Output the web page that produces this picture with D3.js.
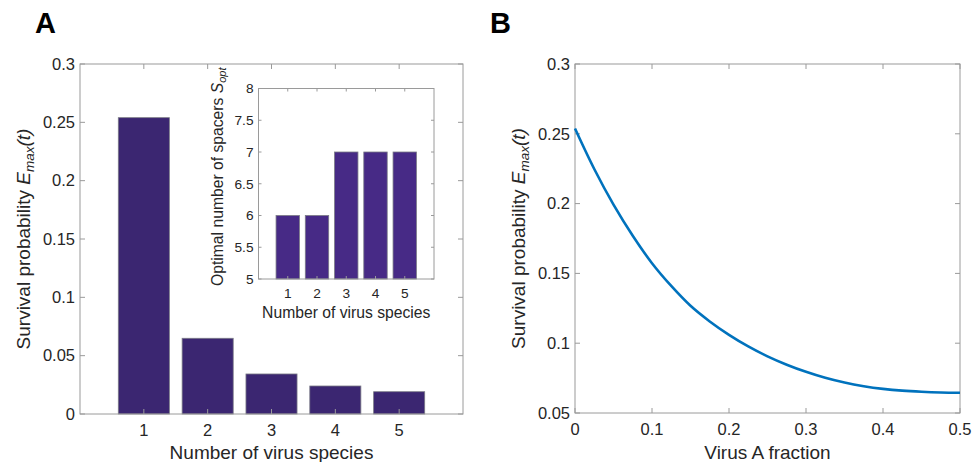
<!DOCTYPE html>
<html><head><meta charset="utf-8">
<script src="https://cdn.jsdelivr.net/npm/d3@7"></script>
<style>
body{margin:0;background:#fff;}
svg text{font-family:"Liberation Sans",Arial,Helvetica,sans-serif;fill:#262626;}
</style></head>
<body><svg id="c" width="972" height="462"></svg>
<script>
// Panel A main bars
const speciesCounts = [1, 2, 3, 4, 5];
const survivalProb = [0.254, 0.0649, 0.0343, 0.024, 0.0191];
const mainYTicks = [0, 0.05, 0.1, 0.15, 0.2, 0.25, 0.3];
const mainYLabels = ["0", "0.05", "0.1", "0.15", "0.2", "0.25", "0.3"];
// Panel A inset
const optimalSpacers = [6, 6, 7, 7, 7];
const insetYTicks = [5, 5.5, 6, 6.5, 7, 7.5, 8];
const insetYLabels = ["5", "5.5", "6", "6.5", "7", "7.5", "8"];
// Panel B curve
const virusAFraction = [0, 0.025, 0.05, 0.075, 0.1, 0.125, 0.15, 0.175, 0.2, 0.225, 0.25, 0.275, 0.3, 0.325, 0.35, 0.375, 0.4, 0.425, 0.45, 0.475, 0.5];
const survivalCurve = [0.2538, 0.2248, 0.1993, 0.1770, 0.1573, 0.1410, 0.1268, 0.1156, 0.1060, 0.0977, 0.0906, 0.0846, 0.0795, 0.0752, 0.0718, 0.0692, 0.0673, 0.0660, 0.0652, 0.0647, 0.0645];
const bXTicks = [0, 0.1, 0.2, 0.3, 0.4, 0.5];
const bXLabels = ["0", "0.1", "0.2", "0.3", "0.4", "0.5"];
const bYTicks = [0.05, 0.1, 0.15, 0.2, 0.25, 0.3];
const bYLabels = ["0.05", "0.1", "0.15", "0.2", "0.25", "0.3"];

const svg = d3.select("#c");
const boxColor = "#9a9a9a";
const tickFS = 16.5, labelFS = 19, insetTickFS = 13.7, insetLabelFS = 15.7;

function frame(g, x0, x1, y0, y1) {
  g.append("rect").attr("x", x0).attr("y", y0).attr("width", x1 - x0).attr("height", y1 - y0)
    .attr("fill", "none").attr("stroke", boxColor).attr("stroke-width", 1);
}
function yTicks(g, y, ticks, labels, x0, x1, len, fs, gap) {
  ticks.forEach((t, i) => {
    const yy = y(t);
    g.append("line").attr("x1", x0).attr("x2", x0 + len).attr("y1", yy).attr("y2", yy).attr("stroke", boxColor);
    g.append("line").attr("x1", x1).attr("x2", x1 - len).attr("y1", yy).attr("y2", yy).attr("stroke", boxColor);
    g.append("text").attr("x", x0 - gap).attr("y", yy).attr("dy", "0.35em").attr("text-anchor", "end")
      .attr("font-size", fs).text(labels[i]);
  });
}
function xTicks(g, x, ticks, labels, y0, y1, len, fs, gap) {
  ticks.forEach((t, i) => {
    const xx = x(t);
    g.append("line").attr("x1", xx).attr("x2", xx).attr("y1", y1).attr("y2", y1 - len).attr("stroke", boxColor);
    g.append("line").attr("x1", xx).attr("x2", xx).attr("y1", y0).attr("y2", y0 + len).attr("stroke", boxColor);
    g.append("text").attr("x", xx).attr("y", y1 + gap).attr("dy", "0.71em").attr("text-anchor", "middle")
      .attr("font-size", fs).text(labels[i]);
  });
}
function survivalLabel(g, cx, cy) {
  const t = g.append("text").attr("transform", `translate(${cx},${cy}) rotate(-90)`)
    .attr("text-anchor", "middle").attr("dy", "0.35em").attr("font-size", labelFS);
  t.append("tspan").text("Survival probability ");
  t.append("tspan").attr("font-style", "italic").text("E");
  t.append("tspan").attr("font-style", "italic").attr("font-size", 13.5).attr("dy", 4.5).text("max");
  t.append("tspan").attr("font-style", "italic").attr("dy", -4.5).text("(t)");
}

// ---------- Panel A ----------
const A = { x0: 80, x1: 463, y0: 64, y1: 414 };
const xA = d3.scaleLinear().domain([0, 6]).range([A.x0, A.x1]);
const yA = d3.scaleLinear().domain([0, 0.3]).range([A.y1, A.y0]);
const gA = svg.append("g");
gA.selectAll("rect.bar").data(speciesCounts).join("rect").attr("class", "bar")
  .attr("x", d => xA(d - 0.4)).attr("width", xA(0.8) - xA(0))
  .attr("y", (d, i) => yA(survivalProb[i])).attr("height", (d, i) => yA(0) - yA(survivalProb[i]))
  .attr("fill", "#3b2671").attr("stroke", "#7a7a86").attr("stroke-width", 0.8);
frame(gA, A.x0, A.x1, A.y0, A.y1);
yTicks(gA, yA, mainYTicks, mainYLabels, A.x0, A.x1, 5, tickFS, 5);
xTicks(gA, xA, speciesCounts, speciesCounts.map(String), A.y0, A.y1, 5, tickFS, 10);
gA.append("text").attr("x", (A.x0 + A.x1) / 2).attr("y", 452).attr("dy", "0.35em")
  .attr("text-anchor", "middle").attr("font-size", labelFS).text("Number of virus species");
survivalLabel(gA, 23, (A.y0 + A.y1) / 2);
svg.append("text").attr("x", 35).attr("y", 33).attr("font-size", 29).attr("font-weight", "bold")
  .style("fill", "#000").text("A");

// ---------- Inset ----------
const I = { x0: 258.5, x1: 434, y0: 88.5, y1: 279 };
const xI = d3.scaleLinear().domain([0, 6]).range([I.x0, I.x1]);
const yI = d3.scaleLinear().domain([5, 8]).range([I.y1, I.y0]);
const gI = svg.append("g");
gI.append("rect").attr("x", I.x0).attr("y", I.y0).attr("width", I.x1 - I.x0).attr("height", I.y1 - I.y0).attr("fill", "#fff");
gI.selectAll("rect.bar").data(speciesCounts).join("rect").attr("class", "bar")
  .attr("x", d => xI(d - 0.4)).attr("width", xI(0.8) - xI(0))
  .attr("y", (d, i) => yI(optimalSpacers[i])).attr("height", (d, i) => yI(5) - yI(optimalSpacers[i]))
  .attr("fill", "#472a86").attr("stroke", "#7a7a86").attr("stroke-width", 0.8);
frame(gI, I.x0, I.x1, I.y0, I.y1);
yTicks(gI, yI, insetYTicks, insetYLabels, I.x0, I.x1, 3, insetTickFS, 5);
xTicks(gI, xI, speciesCounts, speciesCounts.map(String), I.y0, I.y1, 3, insetTickFS, 9);
gI.append("text").attr("x", (I.x0 + I.x1) / 2).attr("y", 313).attr("dy", "0.35em")
  .attr("text-anchor", "middle").attr("font-size", insetLabelFS).text("Number of virus species");
{
  const t = gI.append("text").attr("transform", `translate(217,${(I.y0 + I.y1) / 2 - 7}) rotate(-90)`)
    .attr("text-anchor", "middle").attr("dy", "0.35em").attr("font-size", insetLabelFS);
  t.append("tspan").text("Optimal number of spacers ");
  t.append("tspan").attr("font-style", "italic").text("S");
  t.append("tspan").attr("font-style", "italic").attr("font-size", 11).attr("dy", 3.5).text("opt");
}

// ---------- Panel B ----------
const B = { x0: 575, x1: 960, y0: 64, y1: 413 };
const xB = d3.scaleLinear().domain([0, 0.5]).range([B.x0, B.x1]);
const yB = d3.scaleLinear().domain([0.05, 0.3]).range([B.y1, B.y0]);
const gB = svg.append("g");
frame(gB, B.x0, B.x1, B.y0, B.y1);
yTicks(gB, yB, bYTicks, bYLabels, B.x0, B.x1, 5, tickFS, 5);
xTicks(gB, xB, bXTicks, bXLabels, B.y0, B.y1, 5, tickFS, 10);
const line = d3.line().x((d, i) => xB(virusAFraction[i])).y(d => yB(d)).curve(d3.curveCatmullRom.alpha(0.5));
gB.append("path").datum(survivalCurve).attr("d", line).attr("fill", "none")
  .attr("stroke", "#0072bd").attr("stroke-width", 2.6);
gB.append("text").attr("x", (B.x0 + B.x1) / 2).attr("y", 452).attr("dy", "0.35em")
  .attr("text-anchor", "middle").attr("font-size", labelFS).text("Virus A fraction");
survivalLabel(gB, 518, (B.y0 + B.y1) / 2);
svg.append("text").attr("x", 490).attr("y", 33).attr("font-size", 29).attr("font-weight", "bold")
  .style("fill", "#000").text("B");
</script></body></html>
